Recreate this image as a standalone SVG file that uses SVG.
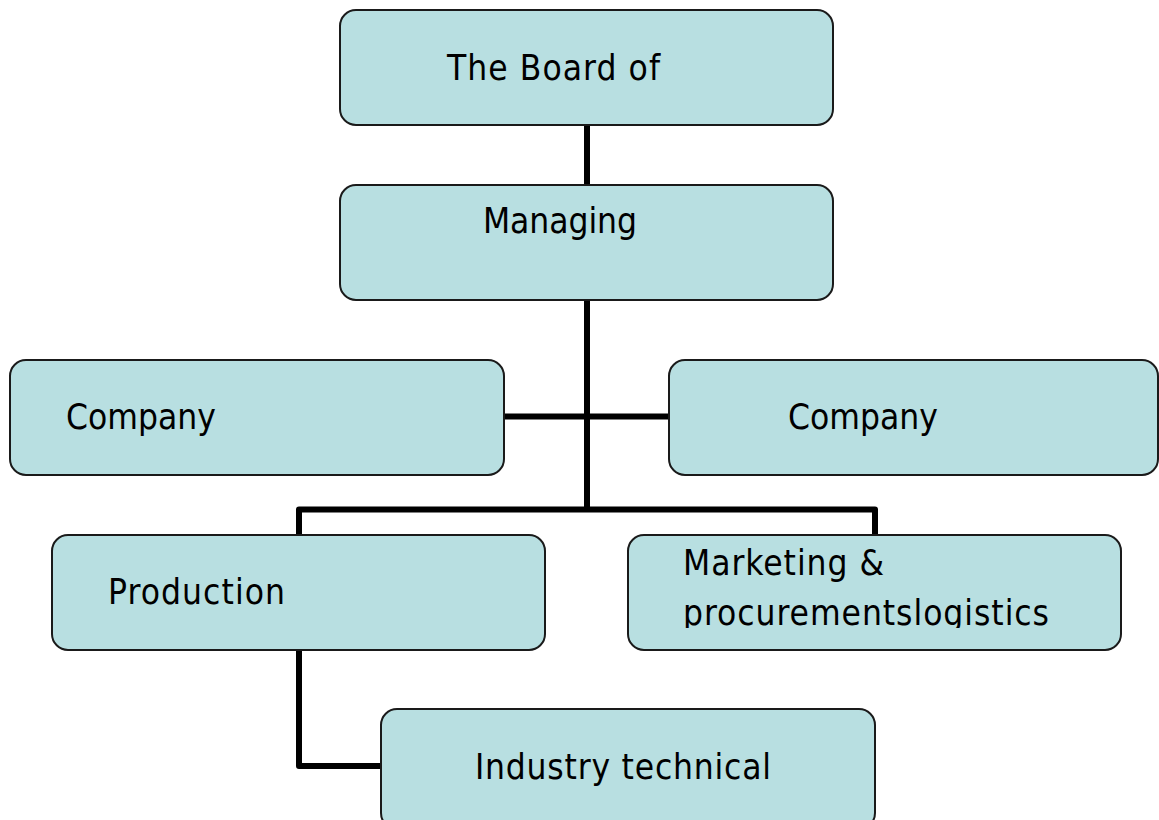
<svg xmlns="http://www.w3.org/2000/svg" width="1159" height="820" viewBox="0 0 1159 820">
  <style>
    .box { fill: #b8dfe1; stroke: #1a1a1a; stroke-width: 2; }
    .lbl { font-family: "DejaVu Sans Condensed", "DejaVu Sans", sans-serif; font-stretch: condensed; font-size: 35px; fill: #000; }
    .wire { fill: none; stroke: #000; stroke-width: 6; stroke-linejoin: round; }
  </style>
  <defs>
    <clipPath id="clipMkt">
      <rect x="628" y="535" width="494" height="93"/>
    </clipPath>
  </defs>
  <rect width="1159" height="820" fill="#fff"/>

  <g id="connectors">
    <path class="wire" d="M587 126 V184"/>
    <path class="wire" d="M587 301 V509.5"/>
    <path class="wire" d="M505 416.5 H668"/>
    <path class="wire" d="M299 534 V509.5 H875 V534"/>
    <path class="wire" d="M299 651 V766 H380"/>
  </g>

  <g id="board">
    <rect class="box" x="340" y="10" width="493" height="115" rx="16"/>
    <text class="lbl" x="447" y="80" textLength="213">The Board of</text>
  </g>
  <g id="managing">
    <rect class="box" x="340" y="185" width="493" height="115" rx="16"/>
    <text class="lbl" x="483" y="233" textLength="154">Managing</text>
  </g>
  <g id="company-left">
    <rect class="box" x="10" y="360" width="494" height="115" rx="16"/>
    <text class="lbl" x="66" y="429" textLength="150">Company</text>
  </g>
  <g id="company-right">
    <rect class="box" x="669" y="360" width="489" height="115" rx="16"/>
    <text class="lbl" x="788" y="429" textLength="150">Company</text>
  </g>
  <g id="production">
    <rect class="box" x="52" y="535" width="493" height="115" rx="16"/>
    <text class="lbl" x="108" y="604" textLength="177">Production</text>
  </g>
  <g id="marketing">
    <rect class="box" x="628" y="535" width="493" height="115" rx="16"/>
    <g clip-path="url(#clipMkt)">
      <text class="lbl" x="683" y="575" textLength="201">Marketing &amp;</text>
      <text class="lbl" x="683" y="625" textLength="366">procurementslogistics</text>
    </g>
  </g>
  <g id="industry">
    <rect class="box" x="381" y="709" width="494" height="120" rx="16"/>
    <text class="lbl" x="475" y="779" textLength="296">Industry technical</text>
  </g>
</svg>
